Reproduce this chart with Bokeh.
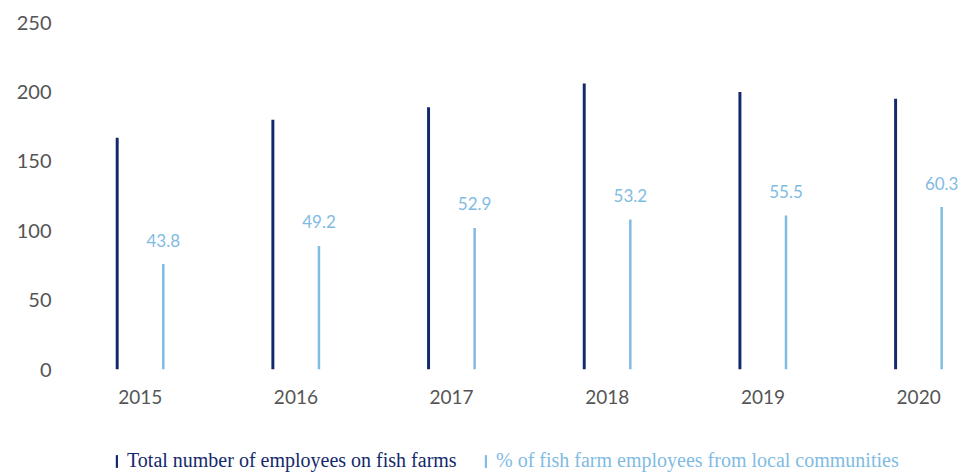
from bokeh.plotting import figure
from bokeh.layouts import column
from bokeh.models import Range1d, FixedTicker, ColumnDataSource, Legend, LegendItem
from bokeh.transform import dodge
from bokeh.core.properties import value
from bokeh.embed import file_html
from bokeh.resources import INLINE

years = [2015, 2016, 2017, 2018, 2019, 2020]
total_employees = [167, 180, 189, 206, 200, 195]
local_employees = [76, 89, 102, 108, 111, 117]
local_pct = [43.8, 49.2, 52.9, 53.2, 55.5, 60.3]
y_ticks = [0, 50, 100, 150, 200, 250]
series_names = ["Total number of employees on fish farms",
                "% of fish farm employees from local communities"]

DARK = "#13296b"
LIGHT = "#80bbe3"
GREY = "#555555"

src = ColumnDataSource(dict(
    year=years,
    total=total_employees,
    local=local_employees,
    label=[f"{v:.1f}" for v in local_pct],
))

p = figure(width=968, height=420, output_backend="svg", toolbar_location=None,
           x_range=Range1d(2014.52, 2020.301), y_range=Range1d(0, 250),
           min_border_left=65, min_border_right=3, min_border_top=22, min_border_bottom=51)
p.outline_line_color = None
p.xgrid.grid_line_color = None
p.ygrid.grid_line_color = None

p.vbar(x=dodge("year", -0.148), top="total", width=0.019, bottom=0, source=src,
       fill_color=DARK, line_color=None)
p.vbar(x=dodge("year", 0.148), top="local", width=0.016, bottom=0, source=src,
       fill_color=LIGHT, line_color=None)
p.text(x=dodge("year", 0.148), y="local", text="label", source=src,
       text_align="center", text_baseline="middle", y_offset=-24,
       text_color=LIGHT, text_font_size="17px", text_font=value("Lato"))

for ax in (p.xaxis[0], p.yaxis[0]):
    ax.axis_line_color = None
    ax.major_tick_line_color = None
    ax.minor_tick_line_color = None
    ax.major_label_text_color = GREY
    ax.major_label_text_font = "Lato"

p.yaxis[0].ticker = FixedTicker(ticks=y_ticks)
p.yaxis[0].major_label_text_font_size = "20px"
p.yaxis[0].major_label_standoff = 8
p.xaxis[0].ticker = FixedTicker(ticks=years)
p.xaxis[0].major_label_text_font_size = "19px"
p.xaxis[0].major_label_standoff = 14

# legend strip (its frame is aligned with the main frame by the column layout)
lf = figure(width=968, height=54, output_backend="svg", toolbar_location=None,
            x_range=Range1d(0, 1), y_range=Range1d(0, 1),
            min_border_left=0, min_border_right=0, min_border_top=0, min_border_bottom=0)
lf.axis.visible = False
lf.grid.visible = False
lf.outline_line_color = None
dummy = ColumnDataSource(dict(x=[0.5], top=[0]))
lr1 = lf.vbar(x="x", top="top", bottom=0, width=0.0, source=dummy, fill_color=DARK, line_color=None)
lr2 = lf.vbar(x="x", top="top", bottom=0, width=0.0, source=dummy, fill_color=LIGHT, line_color=None)

def make_legend(label, renderer, color, x):
    lg = Legend(items=[LegendItem(label=label, renderers=[renderer])],
                location=(x, 2), orientation="horizontal",
                glyph_width=3, glyph_height=16, label_standoff=9, label_height=20,
                padding=0, margin=0, border_line_color=None,
                background_fill_alpha=0,
                label_text_font="Liberation Serif", label_text_font_size="20px",
                label_text_color=color)
    lf.add_layout(lg, "center")

make_legend(series_names[0], lr1, DARK, 50)
make_legend(series_names[1], lr2, LIGHT, 419)

layout = column(p, lf, spacing=0)
open("out.html", "w").write(file_html(layout, INLINE))
